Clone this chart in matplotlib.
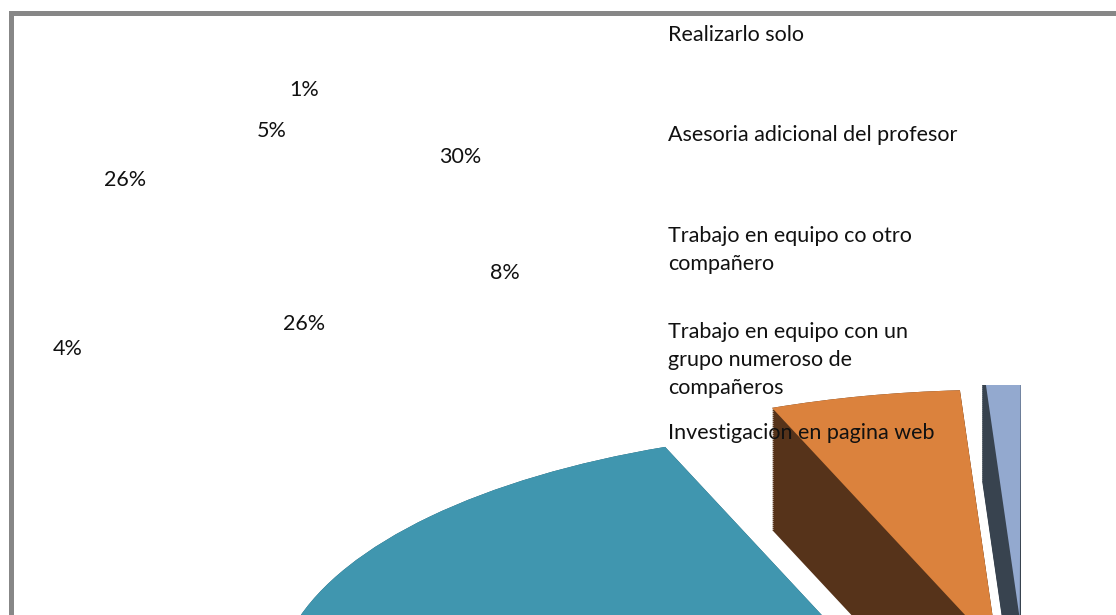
import matplotlib
matplotlib.use('Agg')
import matplotlib.pyplot as plt
import numpy as np
from matplotlib.patches import Rectangle

# datos del grafico
categorias = ['Realizarlo solo',
              'Asesoria adicional del profesor',
              'Trabajo en equipo co otro\ncompañero',
              'Trabajo en equipo con un\ngrupo numeroso de\ncompañeros',
              'Investigacion en pagina web']
porcentajes = [30, 26, 4, 26, 8, 1, 5]   # orden de las porciones (antihorario)
explotar = [0.227, 0.25, 0.25, 0.25, 0.25, 0.327, 0.212]
colores = ['#4096AF', '#4F81BD', '#C0504D', '#9BBB59', '#8064A2', '#93A9CF', '#DB823D']
lados = ['#25596A', '#2F4D71', '#73302E', '#5D7035', '#4C3C61', '#38434F', '#56331A']

# donde quedaron las etiquetas de porcentaje (px)
pos_etiquetas = [(460, 157), (125, 180), (68, 349), (304, 324), (505, 273), (304, 90), (272, 131)]
pos_leyenda = [35, 135, 250, 360, 433]

W, H = 1116, 615
fig = plt.figure(figsize=(W / 100, H / 100), dpi=100)

# geometria del pastel 3D (centro y semiejes en px)
Px, Py = 1025.7, 703.6
A, B = 615, 260
prof = 122

x0, x1 = 13, 1025
y0, y1 = 385, 615
ax = fig.add_axes([x0 / W, 1 - y1 / H, (x1 - x0) / W, (y1 - y0) / H])

# paredes laterales: copias oscuras bajando hasta la profundidad
for d in np.linspace(prof, 0, 62):
    w, _ = ax.pie(porcentajes, explode=explotar, colors=lados, startangle=111.5,
                  center=(0, -d / B), wedgeprops={'linewidth': 0})
    for p in w:
        p.set_clip_on(True)
# cara superior
w, _ = ax.pie(porcentajes, explode=explotar, colors=colores, startangle=111.5,
              wedgeprops={'linewidth': 0})
for p in w:
    p.set_clip_on(True)
ax.set_aspect('auto')
ax.set_xlim((x0 - Px) / A, (x1 - Px) / A)
ax.set_ylim((Py - y1) / B, (Py - y0) / B)
ax.axis('off')

fuente = 'Lato'
for v, (px, py) in zip(porcentajes, pos_etiquetas):
    fig.text(px / W, 1 - py / H, f'{v}%', ha='center', va='center',
             fontsize=15.5, family=fuente, color='#111111')

for txt, py in zip(categorias, pos_leyenda):
    fig.text(668 / W, 1 - py / H, txt, ha='left', va='center',
             fontsize=15.5, family=fuente, color='#111111', linespacing=1.48)

# marco gris (solo se ven lados superior e izquierdo)
fig.patches.append(Rectangle((11 / W, -0.5), 2, 1.5 - 12.5 / H, transform=fig.transFigure,
                             fill=False, ec='#878787', lw=3.6))

fig.savefig('out.png', dpi=100)
